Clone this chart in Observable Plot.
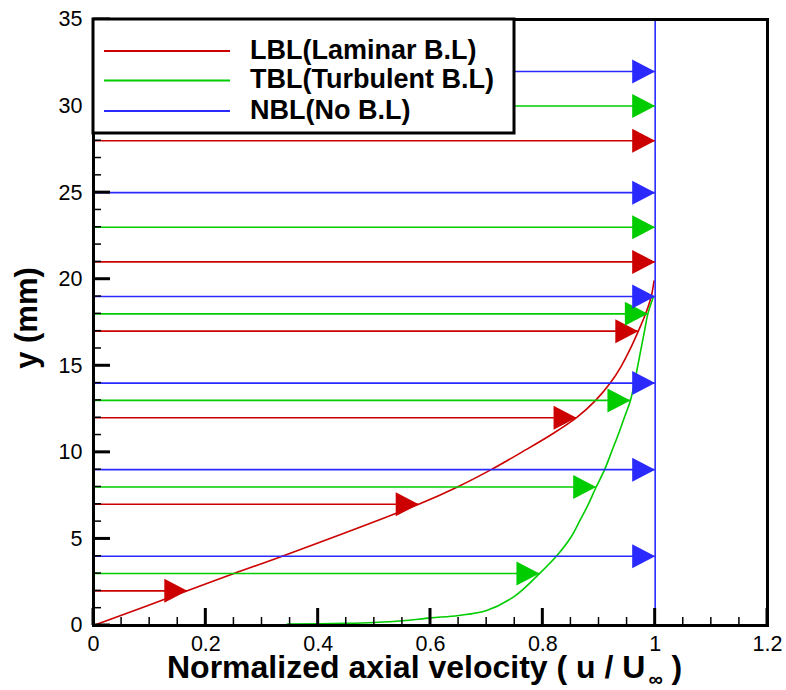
<!DOCTYPE html>
<html>
<head>
<meta charset="utf-8">
<script src="https://cdn.jsdelivr.net/npm/d3@7"></script>
<script src="https://cdn.jsdelivr.net/npm/@observablehq/plot@0.6"></script>
<style>
  html, body { margin: 0; padding: 0; background: #fff; }
  #chart { width: 786px; height: 690px; }
</style>
</head>
<body>
<div id="chart"></div>
<script>
// ---- Data ----
const seriesNames = ["LBL(Laminar B.L)", "TBL(Turbulent B.L)", "NBL(No B.L)"];
const seriesColors = ["#cc0000", "#00cc00", "#2a2aff"];

// velocity vectors (y position in mm, normalized velocity at tip)
const lblVecY = [2, 7, 12, 17, 21, 28];
const lblVecU = [0.167, 0.579, 0.860, 0.970, 1.0, 1.0];
const tblVecY = [3, 8, 13, 18, 23, 30];
const tblVecU = [0.794, 0.895, 0.956, 0.987, 1.0, 1.0];
const nblVecY = [4, 9, 14, 19, 25, 32];
const nblVecU = [1.0, 1.0, 1.0, 1.0, 1.0, 1.0];

// velocity profiles
const lblProfU = [0, 0.167, 0.25, 0.336, 0.579, 0.648, 0.708, 0.762, 0.814, 0.860, 0.894, 0.920, 0.940, 0.956, 0.970, 0.983, 0.993, 0.998];
const lblProfY = [0, 2, 3, 4, 7, 8, 9, 10, 11, 12, 13, 14, 15, 16, 17, 18, 19, 19.9];
const tblProfU = [0.345, 0.45, 0.5, 0.55, 0.6, 0.65, 0.7, 0.75, 0.794, 0.824, 0.850, 0.865, 0.881, 0.895, 0.910, 0.922, 0.934, 0.945, 0.956, 0.963, 0.969, 0.975, 0.981, 0.987, 0.997];
const tblProfY = [0.08, 0.12, 0.17, 0.27, 0.44, 0.58, 0.87, 1.7, 3.0, 4.0, 5.1, 6.0, 7.0, 8.0, 9.0, 10, 11, 12, 13, 14, 15, 16, 17, 18, 19];
const nblProfU = [1.0, 1.0];
const nblProfY = [0, 35];

// axes
const xMajorTicks = [0, 0.2, 0.4, 0.6, 0.8, 1, 1.2];
const xMinorTicks = [0.05, 0.1, 0.15, 0.25, 0.3, 0.35, 0.45, 0.5, 0.55, 0.65, 0.7, 0.75, 0.85, 0.9, 0.95, 1.05, 1.1, 1.15];
const yMajorTicks = [0, 5, 10, 15, 20, 25, 30, 35];
const yMinorTicks = [1,2,3,4,6,7,8,9,11,12,13,14,16,17,18,19,21,22,23,24,26,27,28,29,31,32,33,34];

// ---- Build tables ----
const vectors = [
  ...lblVecY.map((y, i) => ({s: 0, y, u: lblVecU[i]})),
  ...tblVecY.map((y, i) => ({s: 1, y, u: tblVecU[i]})),
  ...nblVecY.map((y, i) => ({s: 2, y, u: nblVecU[i]}))
];
const profiles = [
  lblProfY.map((y, i) => ({s: 0, y, u: lblProfU[i]})),
  tblProfY.map((y, i) => ({s: 1, y, u: tblProfU[i]})),
  nblProfY.map((y, i) => ({s: 2, y, u: nblProfU[i]}))
];

// right-pointing arrowhead with its tip at the data point
const arrowHead = {
  draw(ctx) {
    ctx.moveTo(0, 0);
    ctx.lineTo(-23, -12);
    ctx.lineTo(-23, 12);
    ctx.closePath();
  }
};

const fmt = d3.format("~g");
const font = "'Liberation Sans', Arial, Helvetica, sans-serif";
const W = 786, H = 690, mL = 93, mR = 19, mT = 19, mB = 65;
const majorLen = 17, minorLen = 8;

const svg = Plot.plot({
  width: W, height: H,
  marginLeft: mL, marginRight: mR, marginTop: mT, marginBottom: mB,
  style: {fontFamily: font, background: "white", color: "black"},
  x: {domain: [0, 1.2]},
  y: {domain: [0, 35]},
  marks: [
    // profiles
    ...profiles.map(p => Plot.line(p, {x: "u", y: "y", stroke: seriesColors[p[0].s], strokeWidth: 1.6, curve: "catmull-rom"})),
    // vector shafts
    Plot.ruleY(vectors, {y: "y", x1: 0, x2: "u", stroke: d => seriesColors[d.s], strokeWidth: 1.6}),
    // vector heads
    Plot.dot(vectors, {x: "u", y: "y", symbol: arrowHead, fill: d => seriesColors[d.s], stroke: "none"}),
    // tick labels
    Plot.axisX(xMajorTicks, {tickSize: 0, tickPadding: 10, fontSize: 21.5, tickFormat: fmt, label: null}),
    Plot.axisY(yMajorTicks, {tickSize: 0, tickPadding: 11, fontSize: 21.5, tickFormat: fmt, label: null}),
    Plot.frame({stroke: "black", strokeWidth: 3})
  ]
});

const s = d3.select(svg);
const xs = svg.scale("x"), ys = svg.scale("y");
const x0 = xs.apply(0), y0 = ys.apply(0);

// inward ticks, positioned through Plot's scales
const tg = s.append("g").attr("class", "inward-ticks");
const addX = (vals, len, w) => vals.forEach(v => tg.append("line")
  .attr("x1", xs.apply(v)).attr("x2", xs.apply(v))
  .attr("y1", y0).attr("y2", y0 - len).attr("stroke", "black").attr("stroke-width", w));
const addY = (vals, len, w) => vals.forEach(v => tg.append("line")
  .attr("y1", ys.apply(v)).attr("y2", ys.apply(v))
  .attr("x1", x0).attr("x2", x0 + len).attr("stroke", "black").attr("stroke-width", w));
addX(xMinorTicks, minorLen, 1.5);
addY(yMinorTicks, minorLen, 1.5);
addX(xMajorTicks, majorLen, 3);
addY(yMajorTicks, majorLen, 3);

// legend
const lg = s.append("g").attr("class", "legend").attr("text-anchor", "start");
lg.append("rect")
  .attr("x", 93).attr("y", 19).attr("width", 421).attr("height", 114)
  .attr("fill", "white").attr("stroke", "black").attr("stroke-width", 3);
const legendLineY = [51, 80.5, 111];
seriesNames.forEach((name, i) => {
  lg.append("line")
    .attr("x1", 104).attr("x2", 230)
    .attr("y1", legendLineY[i]).attr("y2", legendLineY[i])
    .attr("stroke", seriesColors[i]).attr("stroke-width", 2);
  lg.append("text")
    .attr("x", 250).attr("y", legendLineY[i] + 7.5)
    .attr("text-anchor", "start")
    .attr("font-family", font).attr("font-weight", "bold").attr("font-size", 27)
    .attr("fill", "black")
    .text(name);
});

// x axis title
const xt = s.append("text")
  .attr("x", 167).attr("y", 678)
  .attr("text-anchor", "start")
  .attr("font-family", font).attr("font-weight", "bold").attr("font-size", 32)
  .attr("fill", "black");
xt.append("tspan").text("Normalized axial velocity ( u / U");
xt.append("tspan").attr("font-size", 20).attr("dx", 3).attr("dy", 8).text("\u221e");
xt.append("tspan").attr("dy", -8).text(" )");

// y axis title
s.append("text")
  .attr("transform", "translate(37,318) rotate(-90)")
  .attr("text-anchor", "middle")
  .attr("font-family", font).attr("font-weight", "bold").attr("font-size", 31)
  .attr("fill", "black")
  .text("y (mm)");

document.getElementById("chart").appendChild(svg);
</script>
</body>
</html>
